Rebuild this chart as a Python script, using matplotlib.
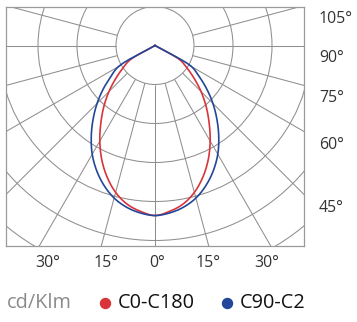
import numpy as np
import matplotlib
matplotlib.use("Agg")
import matplotlib.pyplot as plt
from matplotlib.patches import Circle
from matplotlib.lines import Line2D

plt.rcParams['font.family'] = ['Open Sans', 'DejaVu Sans']

# Luminous intensity distribution (cd/klm) vs. gamma angle from nadir
gamma = [0, 5, 10, 15, 20, 25, 30, 35, 40, 45, 50, 55, 60, 65, 70, 75, 80, 85, 90]
c0_c180 = [436, 427, 413, 390, 359, 323, 283, 242, 204, 167, 131, 100, 74, 0, 0, 0, 0, 0, 0]
c90_c270 = [436, 431, 421, 405, 382, 354, 322, 285, 247, 210, 173, 138, 108, 0, 0, 0, 0, 0, 0]

series_names = ['C0-C180', 'C90-C2']
series_colors = ['#d8343a', '#21479a']
unit_label = 'cd/Klm'

ring_step = 100
ring_count = 6
ray_angles = [0, 15, 30, 45, 60, 75, 90, 105]
bottom_ticks = [30, 15, 0, 15, 30]
bottom_tick_angles = [-30, -15, 0, 15, 30]
side_ticks = [105, 90, 75, 60, 45]


def catmull_rom(pts, n=24):
    """Centripetal Catmull-Rom curve through the given 2-D points."""
    P = np.vstack([2 * pts[0] - pts[1], pts, 2 * pts[-1] - pts[-2]])
    out = []
    for i in range(len(P) - 3):
        p0, p1, p2, p3 = P[i], P[i + 1], P[i + 2], P[i + 3]
        t0 = 0.0
        t1 = t0 + np.linalg.norm(p1 - p0) ** 0.5 + 1e-9
        t2 = t1 + np.linalg.norm(p2 - p1) ** 0.5 + 1e-9
        t3 = t2 + np.linalg.norm(p3 - p2) ** 0.5 + 1e-9
        t = np.linspace(t1, t2, n)[:, None]
        a1 = (t1 - t) / (t1 - t0) * p0 + (t - t0) / (t1 - t0) * p1
        a2 = (t2 - t) / (t2 - t1) * p1 + (t - t1) / (t2 - t1) * p2
        a3 = (t3 - t) / (t3 - t2) * p2 + (t - t2) / (t3 - t2) * p3
        b1 = (t2 - t) / (t2 - t0) * a1 + (t - t0) / (t2 - t0) * a2
        b2 = (t3 - t) / (t3 - t1) * a2 + (t - t1) / (t3 - t1) * a3
        c = (t2 - t) / (t2 - t1) * b1 + (t - t1) / (t2 - t1) * b2
        out.append(c if i == 0 else c[1:])
    return np.vstack(out)


W, H = 357, 322
fig = plt.figure(figsize=(W / 100, H / 100), dpi=100)
fig.patch.set_facecolor('white')

# plot frame in pixels: left 6, right 304, top 6.5, bottom 246; pole at (155, 45.5)
px_left, px_right, px_top, px_bottom = 6, 304, 6.5, 246
cx, cy = 155, 45.5
ax = fig.add_axes([px_left / W, 1 - px_bottom / H,
                   (px_right - px_left) / W, (px_bottom - px_top) / H])
S = ring_step / 39.0  # cd/klm per pixel
ax.set_xlim((px_left - cx) * S, (px_right - cx) * S)
ax.set_ylim(-(px_bottom - cy) * S, (cy - px_top) * S)
ax.set_aspect('equal')
ax.set_xticks([])
ax.set_yticks([])
for sp in ax.spines.values():
    sp.set_color('#9a9a9a')
    sp.set_linewidth(0.9)

grid_col = '#8f8f8f'
grid_lw = 0.75
for k in range(1, ring_count + 1):
    ax.add_patch(Circle((0, 0), k * ring_step, fill=False, ec=grid_col, lw=grid_lw))

r_far = ring_step * 12
for a in ray_angles:
    for sgn in ([1] if a == 0 else [-1, 1]):
        t = np.radians(sgn * a)
        ax.plot([ring_step * np.sin(t), r_far * np.sin(t)],
                [-ring_step * np.cos(t), -r_far * np.cos(t)],
                color=grid_col, lw=grid_lw, solid_capstyle='butt')

# intensity curves, mirrored to both half-planes, closed at the pole
g = np.radians(np.array(gamma, dtype=float))
for vals, col in zip([c0_c180, c90_c270], series_colors):
    v = np.array(vals, dtype=float)
    keep = v > 0
    gk, vk = g[keep], v[keep]
    th = np.concatenate([-gk[::-1], gk[1:]])
    rr = np.concatenate([vk[::-1], vk[1:]])
    pts = np.column_stack([rr * np.sin(th), -rr * np.cos(th)])
    pts = np.vstack([[0.0, 0.0], pts, [0.0, 0.0]])
    curve = catmull_rom(pts)
    ax.plot(curve[:, 0], curve[:, 1], color=col, lw=1.2, solid_joinstyle='round')

xmax = (px_right - cx) * S
ymin = -(px_bottom - cy) * S
tick_col = '#333333'
for lab, a in zip(bottom_ticks, bottom_tick_angles):
    xi = -ymin * np.tan(np.radians(a))
    ax.annotate(f'{lab}°', xy=(xi * 0.945 + 2 * S, ymin), xytext=(0, -17),
                textcoords='offset pixels', ha='center', va='center',
                fontsize=11.4, color=tick_col, annotation_clip=False)
for lab in side_ticks:
    yi = -xmax / np.tan(np.radians(lab))
    ax.annotate(f'{lab}°', xy=(xmax, yi), xytext=(15, -13),
                textcoords='offset pixels', ha='left', va='center',
                fontsize=11.4, color=tick_col, annotation_clip=False)

# legend row
ly = 1 - 303 / H
fig.text(7 / W, ly, unit_label, ha='left', va='center', fontsize=14.3, color='#8a8a8a')
for name, col, dot_x, text_x in zip(series_names, series_colors, [105, 226.7], [118, 239.3]):
    fig.add_artist(Line2D([dot_x / W], [ly], marker='o', markersize=7.2,
                          markerfacecolor=col, markeredgecolor=col, linestyle='none',
                          transform=fig.transFigure))
    fig.text(text_x / W, ly, name, ha='left', va='center', fontsize=14.3, color='#111111')

fig.savefig('out.png', dpi=100, facecolor='white')
